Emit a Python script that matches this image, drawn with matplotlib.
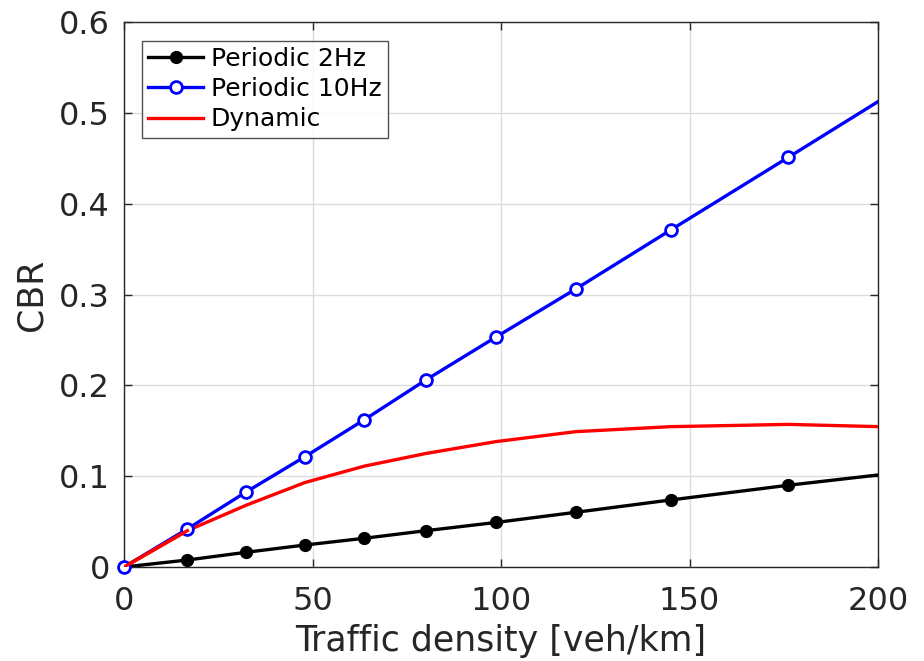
import matplotlib
matplotlib.use("Agg")
import matplotlib.pyplot as plt
import numpy as np

plt.rcParams['font.family'] = ['DejaVu Sans']

# data (last point lies beyond the visible x range and is clipped)
density = [0, 16.8, 32.4, 48.0, 63.7, 80.1, 98.6, 119.8, 145.0, 176.2, 215.0]
cbr_2hz = [0, 0.0077, 0.0162, 0.0242, 0.0316, 0.040, 0.049, 0.0602, 0.0738, 0.090, 0.1084]
cbr_10hz = [0, 0.0419, 0.0826, 0.1215, 0.162, 0.206, 0.253, 0.306, 0.371, 0.451, 0.551]
cbr_dyn = [0, 0.0400, 0.068, 0.093, 0.111, 0.125, 0.138, 0.149, 0.1545, 0.157, 0.153]

labels = ['Periodic 2Hz', 'Periodic 10Hz', 'Dynamic']
xticks = [0, 50, 100, 150, 200]
yticks = [0, 0.1, 0.2, 0.3, 0.4, 0.5, 0.6]

XMAX = 200

fig = plt.figure(figsize=(9.24, 6.61), dpi=100)
ax = fig.add_axes([124/924, 1-567/661, (878-124)/924, (567-22)/661])

x = np.array(density)
vis = x <= XMAX
lw = 2.4

blk_style = dict(color='black', lw=lw, marker='o', ms=8.5, mfc='black', mec='black')
blu_style = dict(color='#0000ff', lw=lw, marker='o', ms=8.5, mfc='white',
                 mec='#0000ff', mew=2.0)

# lines (clipped at axes)
ax.plot(x, cbr_2hz, color='black', lw=lw, zorder=3)
ax.plot(x, cbr_10hz, color='#0000ff', lw=lw, zorder=3)
ax.plot(x, cbr_dyn, color='#ff0000', lw=lw, zorder=3)
# markers (not clipped, as in the original)
ax.plot(x[vis], np.array(cbr_2hz)[vis], ls='none', marker='o', ms=8.5,
        mfc='black', mec='black', zorder=4, clip_on=False)
ax.plot(x[vis], np.array(cbr_10hz)[vis], ls='none', marker='o', ms=8.5,
        mfc='white', mec='#0000ff', mew=2.0, zorder=4, clip_on=False)
# red line drawn over the origin marker as in the original
ax.plot(x[:2], np.array(cbr_dyn)[:2], color='#ff0000', lw=lw, zorder=5)

# legend proxies
h1, = ax.plot([], [], **blk_style, label=labels[0])
h2, = ax.plot([], [], **blu_style, label=labels[1])
h3, = ax.plot([], [], color='#ff0000', lw=lw, label=labels[2])

ax.set_xlim(0, XMAX)
ax.set_ylim(0, 0.6)
ax.set_xticks(xticks)
ax.set_yticks(yticks)
ax.set_xticklabels([str(v) for v in xticks])
ax.set_yticklabels(['0'] + [f'{v:.1f}' for v in yticks[1:]])

tc = '#262626'
ax.tick_params(direction='in', top=True, right=True, labelsize=23,
               colors=tc, length=6, width=1)
ax.tick_params(axis='x', pad=14)
ax.tick_params(axis='y', pad=10)
for s in ax.spines.values():
    s.set_color(tc)
    s.set_linewidth(1.0)
ax.grid(True, color='#dcdcdc', lw=1.0)
ax.set_axisbelow(True)

ax.set_xlabel('Traffic density [veh/km]', fontsize=25, color=tc, labelpad=5)
ax.set_ylabel('CBR', fontsize=25, color=tc, labelpad=8)

leg = ax.legend(handles=[h1, h2, h3], loc='upper left',
                bbox_to_anchor=(0.024, 0.966), fontsize=18,
                frameon=True, fancybox=False, edgecolor=tc, handlelength=2.2,
                handletextpad=0.3, borderpad=0.25, labelspacing=0.25,
                borderaxespad=0)
leg.get_frame().set_linewidth(1.0)
leg.set_zorder(10)

fig.savefig('out.png', dpi=100)
